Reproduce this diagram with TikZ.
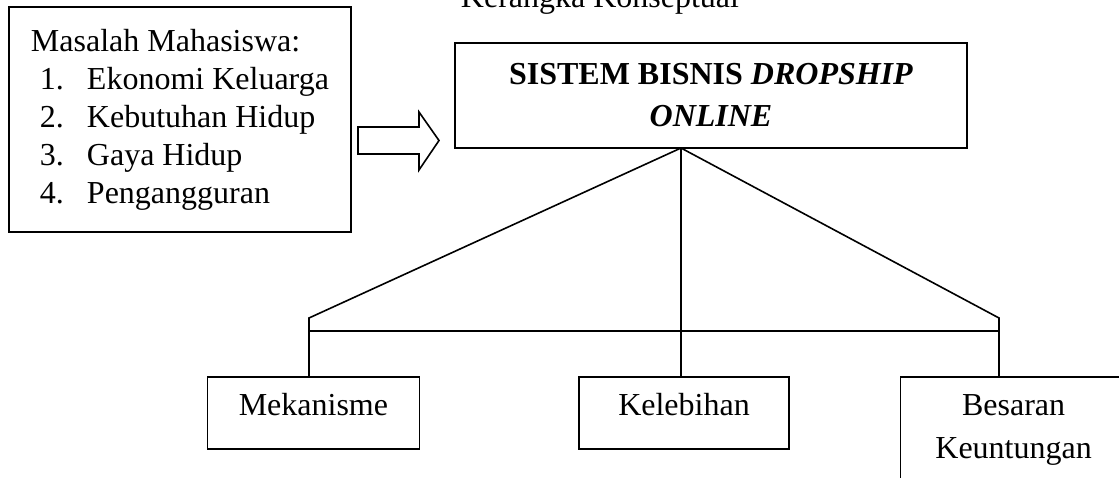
\documentclass[tikz,border=0pt]{standalone}
\usepackage{fontspec}
\setmainfont{Liberation Serif}
\usetikzlibrary{positioning}

\tikzset{
    kotak/.style={draw, line width=0.8pt, inner sep=0pt},
    garis/.style={line width=0.8pt},
}
\newcommand{\butir}[2]{\hspace*{4.5pt}\makebox[23.5pt][l]{#1}#2}

\begin{document}
\begin{tikzpicture}[x=0.5pt, y=-0.5pt, font=\fontsize{16}{19}\selectfont]
    \useasboundingbox (0,0) rectangle (1119,477);
    \node[anchor=base] (judul) at (600,7) {Kerangka Konseptual};
    \node[kotak, align=left, minimum width=171pt, minimum height=112.5pt] (masalah) at (180,119.5)
        {Masalah Mahasiswa:\\\butir{1.}{Ekonomi Keluarga}\\\butir{2.}{Kebutuhan Hidup}\\\butir{3.}{Gaya Hidup}\\\butir{4.}{Pengangguran}};
    \node[kotak, align=center, font=\fontsize{16}{21}\selectfont\bfseries, minimum width=256pt, minimum height=52.5pt] (sistem) at (711,95.5)
        {SISTEM BISNIS \textit{DROPSHIP}\\\textit{ONLINE}};
    \draw[garis] (358,127) -- (419,127) -- (419,112) -- (439,140.5) -- (419,170) -- (419,154) -- (358,154) -- cycle;

    \node[kotak, minimum width=105pt, minimum height=36pt, text height=0.7em, text depth=0.45em] (kelebihan) at (684,413) {Kelebihan};
    \node[kotak, minimum width=106pt, minimum height=36pt, text height=0.7em, text depth=0.45em, left=79pt of kelebihan] (mekanisme) {Mekanisme};
    \node[kotak, align=center, font=\fontsize{16}{21.5}\selectfont, minimum width=113pt, inner ysep=9pt,
        right=55pt of kelebihan.north east, anchor=north west] (besaran) {Besaran\\Keuntungan};

    \coordinate (puncak) at (681,148);
    \coordinate (kiri) at (309,318);
    \coordinate (kanan) at (999,318);
    \draw[garis] (puncak) -- (kiri) -- (kiri |- mekanisme.north);
    \draw[garis] (puncak) -- (puncak |- kelebihan.north);
    \draw[garis] (puncak) -- (kanan) -- (kanan |- besaran.north);
    \draw[garis] ([yshift=-6.5pt]kiri) -- ([yshift=-6.5pt]kanan);
\end{tikzpicture}
\end{document}
